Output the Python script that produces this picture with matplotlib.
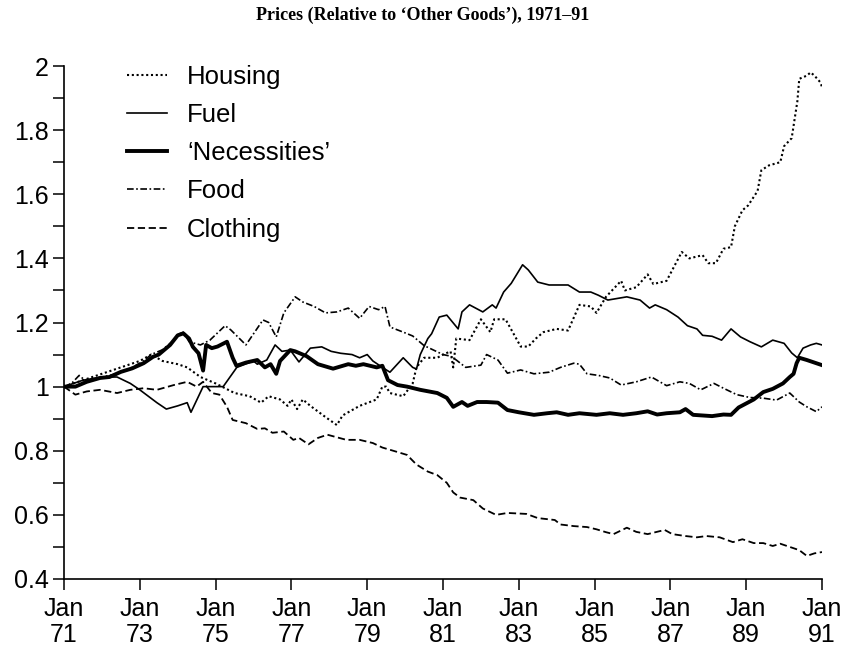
import numpy as np
import matplotlib.pyplot as plt
from matplotlib.ticker import MultipleLocator, FuncFormatter

# data (x = year, 71 = Jan 1971)
housing_t = [71.0, 71.5, 72.0, 72.5, 73.0, 73.3, 73.6, 74.0, 74.25, 74.6, 75.0, 75.5, 75.9, 76.2,
             76.4, 76.7, 76.9, 77.0, 77.15, 77.3, 77.5, 77.9, 78.2, 78.35, 78.8, 79.25, 79.4, 79.5,
             79.6, 79.95, 80.2, 80.3, 80.5, 80.85, 81.0, 81.2, 81.27, 81.35, 81.7, 82.0, 82.25,
             82.35, 82.65, 83.05, 83.25, 83.45, 83.65, 84.0, 84.3, 84.6, 84.9, 85.05, 85.3, 85.7,
             85.8, 86.1, 86.4, 86.55, 86.9, 87.1, 87.3, 87.5, 87.85, 88.0, 88.2, 88.4, 88.6, 88.7,
             88.9, 89.05, 89.3, 89.4, 89.6, 89.9, 90.0, 90.2, 90.35, 90.4, 90.6, 90.7, 90.8,
             90.95, 91.0]
housing = [1.00, 1.02, 1.04, 1.06, 1.08, 1.10, 1.08, 1.07, 1.06, 1.03, 1.01, 0.98, 0.97, 0.95,
           0.97, 0.96, 0.94, 0.96, 0.93, 0.96, 0.94, 0.905, 0.88, 0.91, 0.94, 0.96, 1.00, 1.00,
           0.98, 0.97, 1.01, 1.06, 1.09, 1.09, 1.10, 1.11, 1.06, 1.15, 1.145, 1.21, 1.17,
           1.21, 1.21, 1.125, 1.125, 1.15, 1.17, 1.18, 1.175, 1.255, 1.25, 1.23, 1.28, 1.33,
           1.30, 1.31, 1.35, 1.32, 1.33, 1.375, 1.42, 1.40, 1.41, 1.385, 1.385, 1.43, 1.435, 1.50,
           1.55, 1.565, 1.61, 1.675, 1.69, 1.70, 1.75, 1.775, 1.89, 1.96, 1.97, 1.98, 1.97,
           1.95, 1.935]

fuel_t = [71.0, 71.5, 72.0, 72.4, 72.75, 73.0, 73.45, 73.7, 74.0, 74.25, 74.35, 74.67, 75.2,
          75.56, 76.0, 76.1, 76.35, 76.57, 76.75, 76.97, 77.2, 77.5, 77.8, 78.05, 78.3, 78.6,
          78.8, 79.0, 79.15, 79.4, 79.6, 79.95, 80.2, 80.3, 80.4, 80.6, 80.7, 80.9, 81.1, 81.4,
          81.5, 81.7, 82.05, 82.3, 82.4, 82.6, 82.8, 83.1, 83.25, 83.5, 83.8, 84.3, 84.6, 84.9,
          85.1, 85.35, 85.85, 86.2, 86.45, 86.6, 86.9, 87.2, 87.45, 87.7, 87.85, 88.1, 88.35,
          88.6, 88.85, 89.1, 89.4, 89.7, 90.0, 90.2, 90.35, 90.5, 90.7, 90.85, 91.0]
fuel = [1.00, 1.02, 1.03, 1.03, 1.01, 0.99, 0.95, 0.93, 0.94, 0.95, 0.92, 1.00, 1.00,
        1.06, 1.08, 1.07, 1.083, 1.13, 1.11, 1.114, 1.077, 1.12, 1.124, 1.11, 1.104, 1.10,
        1.09, 1.10, 1.08, 1.06, 1.045, 1.09, 1.06, 1.055, 1.10, 1.15, 1.165, 1.217, 1.223, 1.18,
        1.233, 1.255, 1.233, 1.255, 1.245, 1.295, 1.322, 1.38, 1.364, 1.326, 1.317, 1.317, 1.295, 1.295,
        1.285, 1.27, 1.28, 1.27, 1.245, 1.255, 1.24, 1.217, 1.19, 1.18, 1.16, 1.157, 1.145,
        1.18, 1.155, 1.14, 1.124, 1.145, 1.135, 1.105, 1.09, 1.12, 1.13, 1.135, 1.13]

necess_t = [71.0, 71.3, 71.6, 71.95, 72.2, 72.5, 72.8, 73.1, 73.35, 73.5, 73.8, 74.0, 74.15,
            74.3, 74.4, 74.55, 74.67, 74.75, 74.9, 75.05, 75.3, 75.45, 75.55, 75.8, 76.1, 76.3,
            76.45, 76.6, 76.7, 76.97, 77.1, 77.4, 77.7, 78.1, 78.5, 78.7, 78.9, 79.25, 79.4,
            79.55, 79.8, 80.05, 80.4, 80.85, 81.1, 81.27, 81.5, 81.65, 81.9, 82.15, 82.45, 82.7,
            83.0, 83.4, 83.75, 84.0, 84.3, 84.6, 85.05, 85.4, 85.75, 86.1, 86.4, 86.65, 86.9,
            87.25, 87.4, 87.6, 88.1, 88.4, 88.6, 88.8, 89.2, 89.45, 89.7, 89.97, 90.15, 90.25,
            90.33, 90.4, 90.6, 90.85, 91.0]
necessities = [1.00, 1.00, 1.015, 1.027, 1.03, 1.046, 1.057, 1.073, 1.093, 1.10, 1.13, 1.16, 1.166,
               1.15, 1.124, 1.104, 1.05, 1.13, 1.12, 1.125, 1.14, 1.09, 1.065, 1.075, 1.083, 1.06,
               1.07, 1.04, 1.08, 1.114, 1.11, 1.095, 1.07, 1.056, 1.07, 1.065, 1.07, 1.06, 1.065,
               1.02, 1.005, 1.00, 0.99, 0.98, 0.965, 0.937, 0.952, 0.94, 0.952, 0.952, 0.95, 0.927,
               0.92, 0.912, 0.917, 0.92, 0.912, 0.917, 0.912, 0.917, 0.912, 0.917, 0.923, 0.913, 0.917,
               0.92, 0.93, 0.912, 0.908, 0.913, 0.912, 0.935, 0.96, 0.983, 0.993, 1.01, 1.03, 1.04,
               1.073, 1.09, 1.083, 1.073, 1.067]

food_t = [71.0, 71.2, 71.4, 71.6, 72.0, 72.4, 72.8, 73.1, 73.3, 73.6, 73.85, 74.05, 74.15, 74.3,
          74.6, 74.85, 75.25, 75.4, 75.8, 76.25, 76.4, 76.6, 76.8, 77.1, 77.3, 77.6, 77.9, 78.2,
          78.5, 78.8, 79.05, 79.3, 79.47, 79.6, 79.95, 80.2, 80.5, 80.75, 81.0, 81.2, 81.35, 81.6,
          82.0, 82.15, 82.45, 82.7, 83.05, 83.4, 83.8, 84.1, 84.45, 84.6, 84.8, 85.1, 85.4, 85.7,
          86.1, 86.5, 86.9, 87.25, 87.5, 87.8, 88.15, 88.4, 88.75, 89.1, 89.45, 89.8, 90.15, 90.4,
          90.6, 90.85, 91.0]
food = [1.00, 1.01, 1.035, 1.015, 1.03, 1.04, 1.06, 1.08, 1.10, 1.115, 1.14, 1.165, 1.17, 1.14,
        1.13, 1.145, 1.19, 1.177, 1.13, 1.208, 1.20, 1.155, 1.23, 1.28, 1.264, 1.25, 1.23, 1.233,
        1.245, 1.213, 1.25, 1.24, 1.25, 1.186, 1.17, 1.158, 1.128, 1.114, 1.10, 1.095, 1.083, 1.06,
        1.067, 1.10, 1.083, 1.042, 1.052, 1.04, 1.045, 1.06, 1.073, 1.07, 1.04, 1.035, 1.027, 1.005,
        1.015, 1.03, 1.003, 1.015, 1.01, 0.99, 1.01, 0.995, 0.975, 0.966, 0.964, 0.958, 0.98, 0.952,
        0.937, 0.922, 0.937]

cloth_t = [71.0, 71.3, 71.6, 71.95, 72.4, 72.75, 73.1, 73.45, 73.9, 74.25, 74.5, 74.67, 74.9,
           75.1, 75.3, 75.45, 75.8, 76.1, 76.3, 76.5, 76.8, 77.05, 77.2, 77.45, 77.7, 77.95, 78.2,
           78.45, 78.8, 79.15, 79.4, 79.8, 80.05, 80.3, 80.6, 80.85, 81.1, 81.27, 81.45, 81.8,
           82.05, 82.4, 82.7, 83.2, 83.5, 83.95, 84.1, 84.45, 84.8, 85.05, 85.3, 85.5, 85.85,
           86.1, 86.4, 86.85, 87.05, 87.4, 87.7, 87.95, 88.3, 88.65, 88.9, 89.2, 89.45, 89.7,
           89.9, 90.15, 90.4, 90.6, 90.8, 91.0]
clothing = [1.00, 0.975, 0.985, 0.99, 0.98, 0.99, 0.995, 0.99, 1.005, 1.015, 1.00, 1.015, 0.98,
            0.975, 0.937, 0.896, 0.886, 0.868, 0.87, 0.856, 0.86, 0.834, 0.84, 0.82, 0.84, 0.85, 0.842,
            0.834, 0.834, 0.824, 0.81, 0.796, 0.787, 0.757, 0.735, 0.724, 0.70, 0.67, 0.654, 0.646,
            0.62, 0.60, 0.606, 0.603, 0.59, 0.584, 0.57, 0.565, 0.562, 0.555, 0.546, 0.54, 0.56,
            0.547, 0.54, 0.553, 0.54, 0.534, 0.53, 0.534, 0.53, 0.515, 0.524, 0.512, 0.512, 0.503,
            0.51, 0.50, 0.49, 0.472, 0.48, 0.484]

year_ticks = list(range(71, 92, 2))
year_labels = ["Jan\n%d" % y for y in year_ticks]

plt.rcParams['font.family'] = ['Liberation Sans', 'DejaVu Sans']

fig = plt.figure(figsize=(8.46, 6.49), dpi=100)
ax = fig.add_axes([64 / 846, 70 / 649, 758 / 846, 513 / 649])

ax.plot(housing_t, housing, color='black', lw=1.5, ls=(0, (1, 1.3)), label='Housing')
ax.plot(fuel_t, fuel, color='black', lw=1.2, ls='-', label='Fuel')
ax.plot(necess_t, necessities, color='black', lw=2.8, ls='-', label='\u2018Necessities\u2019')
ax.plot(food_t, food, color='black', lw=1.2, ls=(0, (4, 1.5, 1, 1.5)), label='Food')
ax.plot(cloth_t, clothing, color='black', lw=1.3, ls=(0, (4, 2)), label='Clothing')

ax.set_xlim(71, 91)
ax.set_ylim(0.4, 2.0)
for s in ['top', 'right']:
    ax.spines[s].set_visible(False)
ax.spines['left'].set_linewidth(1.2)
ax.spines['bottom'].set_linewidth(1.2)

ax.set_xticks(year_ticks)
ax.set_xticklabels(year_labels)
ax.yaxis.set_major_locator(MultipleLocator(0.2))
ax.yaxis.set_minor_locator(MultipleLocator(0.1))
ax.yaxis.set_major_formatter(FuncFormatter(lambda v, p: ('%.1f' % v).rstrip('0').rstrip('.')))
ax.tick_params(axis='both', which='both', direction='out', length=8, width=1.1, labelsize=18,
               colors='black')
ax.tick_params(axis='y', pad=3)
ax.tick_params(axis='x', pad=5)
for lab in ax.get_xticklabels():
    lab.set_linespacing(1.12)

leg = ax.legend(loc='upper left', bbox_to_anchor=(0.07, 1.022), frameon=False, fontsize=18.5,
                handlelength=1.55, handletextpad=0.78, labelspacing=0.55, borderaxespad=0)

fig.text(0.5, 0.989, 'Prices (Relative to \u2018Other Goods\u2019), 1971\u201391',
         ha='center', va='top', fontsize=13, fontweight='bold', family='Liberation Serif')

fig.savefig('out.png', dpi=100)
